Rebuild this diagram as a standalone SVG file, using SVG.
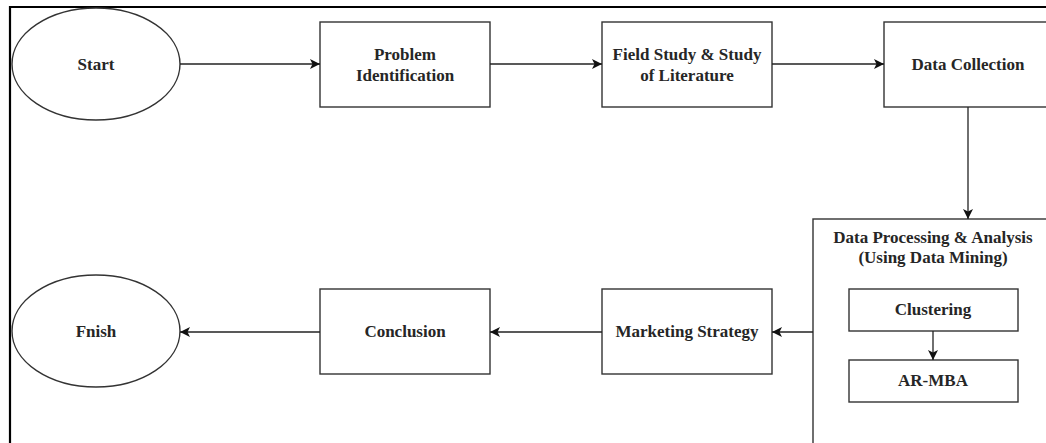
<svg xmlns="http://www.w3.org/2000/svg" width="1046" height="443" viewBox="0 0 1046 443">
<style>
.box{fill:#fff;stroke:#333;stroke-width:1.4}
.t{font-family:"Liberation Serif","Times New Roman",serif;font-size:17px;font-weight:bold;fill:#262626;text-anchor:middle}
.c{fill:none;stroke:#222;stroke-width:1.3}
.frame{fill:none;stroke:#000;stroke-width:2.2}
</style>
<defs>
<marker id="ah" viewBox="0 0 10 10" refX="10" refY="5" markerWidth="10" markerHeight="10" markerUnits="userSpaceOnUse" orient="auto">
<path d="M0,0 L10,5 L0,10 L2.5,5 Z" fill="#111"/>
</marker>
</defs>
<rect width="1046" height="443" fill="#fff"/>
<path class="frame" d="M10,443 V7 H1046"/>
<g id="start"><ellipse class="box" cx="96" cy="64" rx="84" ry="56"/><text class="t" x="96" y="70">Start</text></g>
<g id="problem"><rect class="box" x="320" y="22" width="170" height="85"/><text class="t" x="405" y="60">Problem</text><text class="t" x="405" y="81">Identification</text></g>
<g id="field"><rect class="box" x="602" y="22" width="170" height="85"/><text class="t" x="687" y="60">Field Study &amp; Study</text><text class="t" x="687" y="81">of Literature</text></g>
<g id="collection"><rect class="box" x="884" y="22" width="170" height="85"/><text class="t" x="968" y="70">Data Collection</text></g>
<g id="processing"><rect class="box" x="813" y="219" width="240" height="240"/><text class="t" x="933" y="243">Data Processing &amp; Analysis</text><text class="t" x="933" y="263">(Using Data Mining)</text></g>
<g id="clustering"><rect class="box" x="849" y="289" width="169" height="42"/><text class="t" x="933" y="315">Clustering</text></g>
<g id="armba"><rect class="box" x="849" y="360" width="169" height="42"/><text class="t" x="933" y="386">AR-MBA</text></g>
<g id="marketing"><rect class="box" x="602" y="289" width="170" height="85"/><text class="t" x="687" y="337">Marketing Strategy</text></g>
<g id="conclusion"><rect class="box" x="320" y="289" width="170" height="85"/><text class="t" x="405" y="337">Conclusion</text></g>
<g id="finish"><ellipse class="box" cx="96" cy="331" rx="84" ry="56"/><text class="t" x="96" y="337">Fnish</text></g>
<g id="connectors">
<path class="c" d="M180,64 H320" marker-end="url(#ah)"/>
<path class="c" d="M490,64 H602" marker-end="url(#ah)"/>
<path class="c" d="M772,64 H884" marker-end="url(#ah)"/>
<path class="c" d="M968,107 V219" marker-end="url(#ah)"/>
<path class="c" d="M933,331 V360" marker-end="url(#ah)"/>
<path class="c" d="M813,332 H772" marker-end="url(#ah)"/>
<path class="c" d="M602,332 H490" marker-end="url(#ah)"/>
<path class="c" d="M320,332 H180" marker-end="url(#ah)"/>
</g>
</svg>
